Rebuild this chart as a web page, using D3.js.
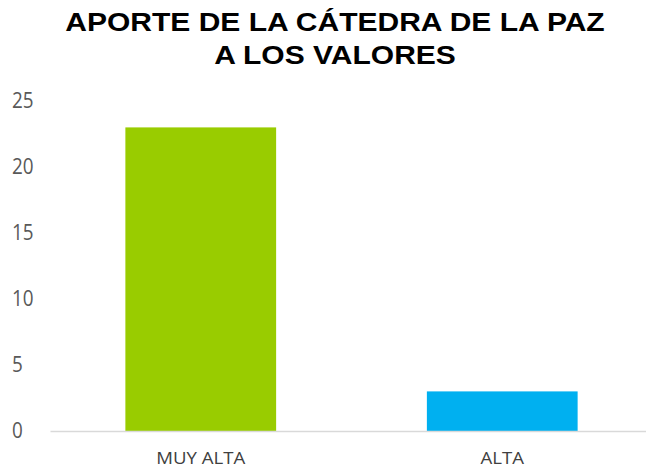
<!DOCTYPE html>
<html>
<head>
<meta charset="utf-8">
<script src="https://cdn.jsdelivr.net/npm/d3@7"></script>
<style>
  body { margin: 0; background: #fff; }
</style>
</head>
<body>
<div id="chart"></div>
<script>
// data
var categories = ['MUY ALTA', 'ALTA'];
var values = [23, 3];
var colors = ['#99CC00', '#00B0F0'];
var y_ticks = [0, 5, 10, 15, 20, 25];
var title_lines = ['APORTE DE LA CÁTEDRA DE LA PAZ', 'A LOS VALORES'];

var width = 646, height = 470;

var svg = d3.select('#chart').append('svg')
    .attr('width', width)
    .attr('height', height);

var x_scale = d3.scaleBand()
    .domain(categories)
    .range([50, 653])
    .paddingInner(0.5)
    .paddingOuter(0.25);

var y_scale = d3.scaleLinear()
    .domain([0, 25])
    .range([431, 101]);

// title (the original is a bit stretched sideways)
svg.append('g')
    .selectAll('text')
    .data(title_lines)
  .enter().append('text')
    .attr('transform', function(d, i) { return 'translate(335,' + (31 + i * 33) + ') scale(1.2,1)'; })
    .attr('text-anchor', 'middle')
    .attr('font-family', 'Liberation Sans, Arial, sans-serif')
    .attr('font-weight', 'bold')
    .attr('font-size', 25)
    .attr('fill', '#000')
    .text(function(d) { return d; });

// y axis (labels only)
var y_axis = svg.append('g')
    .attr('transform', 'translate(12,0)')
    .call(d3.axisRight(y_scale).tickValues(y_ticks).tickSize(0).tickPadding(0));
y_axis.select('.domain').remove();
y_axis.selectAll('text')
    .attr('font-family', 'Open Sans, sans-serif')
    .attr('font-size', 21)
    .attr('transform', 'scale(0.9,1)')
    .attr('fill', '#595959');

// bars
svg.append('g')
    .selectAll('rect')
    .data(values)
  .enter().append('rect')
    .attr('x', function(d, i) { return x_scale(categories[i]); })
    .attr('y', function(d) { return y_scale(d); })
    .attr('width', x_scale.bandwidth())
    .attr('height', function(d) { return y_scale(0) - y_scale(d); })
    .attr('fill', function(d, i) { return colors[i]; });

// x axis
var x_axis = svg.append('g')
    .attr('transform', 'translate(0,' + y_scale(0) + ')')
    .call(d3.axisBottom(x_scale).tickSize(0).tickPadding(22).tickSizeOuter(0));
x_axis.select('.domain')
    .attr('stroke', '#d9d9d9')
    .attr('stroke-width', 1.5);
x_axis.selectAll('text')
    .attr('font-family', 'Open Sans, sans-serif')
    .attr('font-size', 15.5)
    .attr('transform', 'scale(1.2,1)')
    .attr('fill', '#404040');
</script>
</body>
</html>
